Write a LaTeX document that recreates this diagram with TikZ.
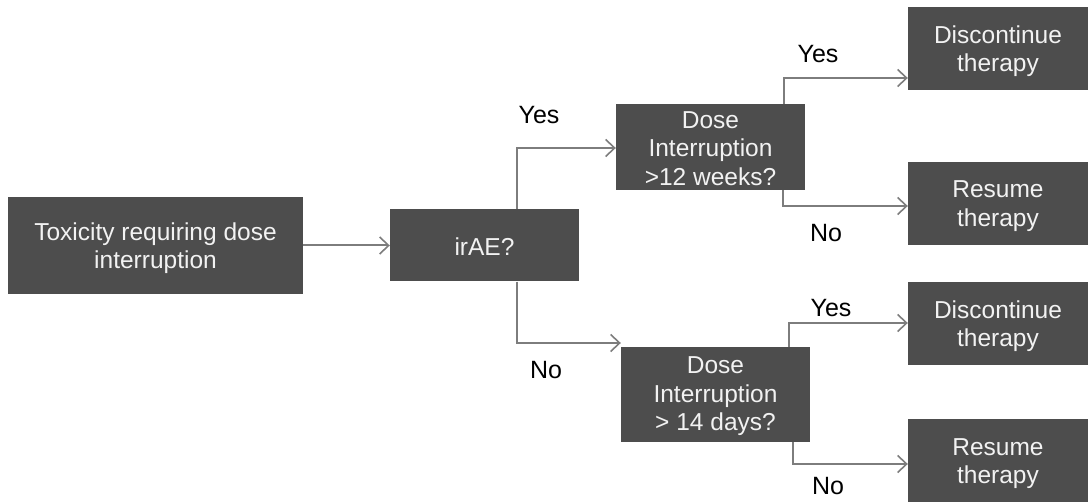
\documentclass[tikz,border=0pt]{standalone}
\usepackage{fontspec}
\setmainfont{Liberation Sans}
\usetikzlibrary{arrows.meta,calc}
\definecolor{boxgray}{RGB}{77,77,77}
\definecolor{linegray}{RGB}{125,125,125}
\definecolor{boxtext}{RGB}{242,242,242}
\begin{document}
\begin{tikzpicture}[x=1pt,y=-1pt,
  box/.style={fill=boxgray,text=boxtext,inner sep=0pt,align=center,
    font=\fontsize{24.5}{28.5}\selectfont},
  boxtxt/.style={text=boxtext,inner sep=0pt,align=center,
    font=\fontsize{24.5}{28.5}\selectfont},
  lbl/.style={inner sep=0pt,text=black,font=\fontsize{25}{29}\selectfont},
  arr/.style={draw=linegray,line width=2pt,
    -{Straight Barb[length=9pt,width=17pt,line width=1.6pt]}}]
\useasboundingbox (0,0) rectangle (1088,502);

% decision boxes (text set slightly below the geometric centre)
\node[box,minimum width=295pt,minimum height=97pt] (tox) at (155.5,245.5) {};
\node[boxtxt] (toxt) at ($(tox.center)+(0,2.5)$) {Toxicity requiring dose\\interruption};
\node[box,minimum width=189pt,minimum height=72pt] (irae) at (484.5,245.5) {};
\node[boxtxt] (iraet) at ($(irae.center)+(0,1)$) {irAE?};
\node[box,minimum width=189pt,minimum height=86pt] (d12) at (710.5,147) {};
\node[boxtxt] (d12t) at ($(d12.center)+(0,1.5)$) {Dose\\Interruption\\>12 weeks?};
\node[box,minimum width=189pt,minimum height=95pt] (d14) at (715.5,394.5) {};
\node[boxtxt] (d14t) at ($(d14.center)+(0,2)$) {Dose\\Interruption\\> 14 days?};

% outcome boxes
\node[box,minimum width=180pt,minimum height=83pt] (disc1) at (998,48.5) {};
\node[boxtxt] (disc1t) at ($(disc1.center)+(0,2.5)$) {Discontinue\\therapy};
\node[box,minimum width=180pt,minimum height=83pt] (res1) at (998,203.5) {};
\node[boxtxt] (res1t) at ($(res1.center)+(0,2.5)$) {Resume\\therapy};
\node[box,minimum width=180pt,minimum height=83pt] (disc2) at (998,323.5) {};
\node[boxtxt] (disc2t) at ($(disc2.center)+(0,2.5)$) {Discontinue\\therapy};
\node[box,minimum width=180pt,minimum height=83pt] (res2) at (998,461) {};
\node[boxtxt] (res2t) at ($(res2.center)+(0,2.5)$) {Resume\\therapy};

% elbow points of the connectors
\coordinate (ya) at (516.5,148);
\coordinate (na) at (517,343);
\coordinate (y1) at (784,78);
\coordinate (n1) at (783,206);
\coordinate (y2) at (789,323);
\coordinate (n2) at (793,464);

% connectors
\draw[arr] (tox.east) -- (irae.west);
\draw[arr] (irae.north -| ya) |- (d12.west |- ya);
\draw[arr] (irae.south -| na) |- (d14.north west |- na);
\draw[arr] (d12.north -| y1) |- (disc1.west |- y1);
\draw[arr] (d12.south -| n1) |- (res1.west |- n1);
\draw[arr] (d14.north -| y2) |- (disc2.west |- y2);
\draw[arr] (d14.south -| n2) |- (res2.west |- n2);

% branch labels
\node[lbl] (l1) at (539,115) {Yes};
\node[lbl] (l2) at (546,370) {No};
\node[lbl] (l3) at (818,54) {Yes};
\node[lbl] (l4) at (826,233) {No};
\node[lbl] (l5) at (831,308) {Yes};
\node[lbl] (l6) at (828,486) {No};
\end{tikzpicture}
\end{document}
